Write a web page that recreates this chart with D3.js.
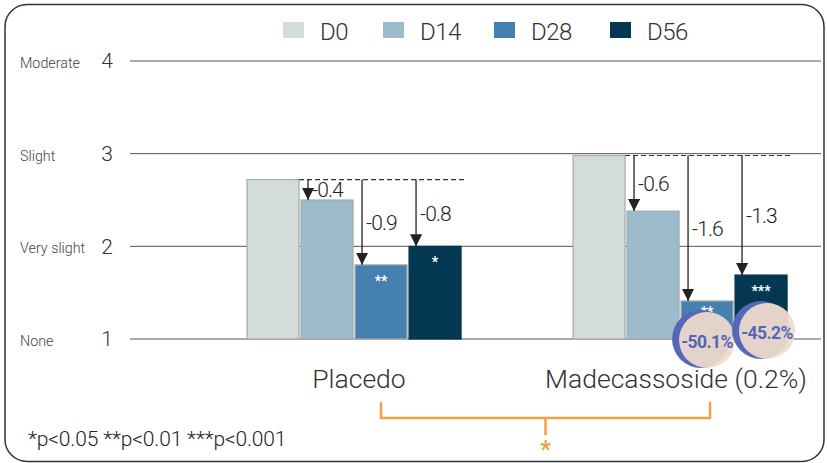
<!DOCTYPE html>
<html><head><meta charset="utf-8">
<script src="https://cdn.jsdelivr.net/npm/d3@7"></script>
<style>
html,body{margin:0;padding:0;background:#fff;}
text{font-family:Roboto,"Noto Sans",sans-serif;}
</style></head>
<body><svg id="c" width="827" height="463"></svg>
<script>
const groups = ["Placedo", "Madecassoside (0.2%)"];
const series = ["D0", "D14", "D28", "D56"];
const colors = ["#d2dcd8", "#9cbccc", "#4580b0", "#043852"];
const placeboValues = [2.72, 2.50, 1.80, 2.00];
const madeValues = [2.98, 2.38, 1.41, 1.69];
const placeboDeltas = ["-0.4", "-0.9", "-0.8"];
const madeDeltas = ["-0.6", "-1.6", "-1.3"];
const placeboStars = ["", "", "**", "*"];
const madeStars = ["", "", "**", "***"];
const madePercents = ["", "", "-50.1%", "-45.2%"];
const yTicks = [1, 2, 3, 4];
const yNames = ["None", "Very slight", "Slight", "Moderate"];
const footnote = "*p<0.05 **p<0.01 ***p<0.001";

const values = [placeboValues, madeValues];
const deltas = [placeboDeltas, madeDeltas];
const stars = [placeboStars, madeStars];

const svg = d3.select("#c");

// border
svg.append("rect").attr("x", 5).attr("y", 4.5).attr("width", 819).attr("height", 457)
  .attr("rx", 22).attr("fill", "none").attr("stroke", "#333").attr("stroke-width", 1.5);

const y = d3.scaleLinear().domain([1, 4]).range([339, 61]);
const x0 = d3.scaleBand().domain(groups).range([190, 842]).paddingInner(0.35).paddingOuter(0.175);
const x1 = d3.scaleBand().domain(series).range([0, 214]).paddingInner(0.037);
const bw = x1.bandwidth();

// grid
const grid = svg.append("g");
yTicks.forEach((t, i) => {
  grid.append("line").attr("x1", 130).attr("x2", 821).attr("y1", y(t)).attr("y2", y(t))
    .attr("stroke", t === 1 ? "#aaa" : "#555").attr("stroke-width", t === 1 ? 2 : 1);
  grid.append("text").attr("x", 113).attr("y", y(t)).attr("dy", "0.35em").attr("text-anchor", "end")
    .attr("font-size", 21).attr("font-weight", 300).attr("fill", "#333").text(t);
  grid.append("text").attr("x", 20).attr("y", y(t) + 2).attr("dy", "0.35em")
    .attr("font-size", 14.3).attr("font-weight", 300).attr("fill", "#444").text(yNames[i]);
});

// legend
const lx = [283, 383, 494, 610];
series.forEach((s, i) => {
  svg.append("rect").attr("x", lx[i]).attr("y", 22).attr("width", 21).attr("height", 16).attr("fill", colors[i]);
  svg.append("text").attr("x", lx[i] + 37).attr("y", 31).attr("dy", "0.36em")
    .attr("font-size", 24).attr("font-weight", 300).attr("fill", "#333").attr("letter-spacing", -0.5).text(s);
});

// arrow marker
const defs = svg.append("defs");
defs.append("marker").attr("id", "ah").attr("viewBox", "0 0 10 10").attr("refX", 10).attr("refY", 5)
  .attr("markerWidth", 12).attr("markerHeight", 12).attr("markerUnits", "userSpaceOnUse").attr("orient", "auto")
  .append("path").attr("d", "M0,0 L10,5 L0,10 Z").attr("fill", "#222");

const labelShift = [6, -3];

groups.forEach((g, gi) => {
  const gx = x0(g);
  const vals = values[gi];
  const G = svg.append("g").attr("transform", `translate(${gx},0)`);
  G.selectAll("rect.bar").data(vals).join("rect").attr("class", "bar")
    .attr("x", (d, i) => x1(series[i])).attr("width", bw)
    .attr("y", d => y(d)).attr("height", d => y(1) - y(d))
    .attr("fill", (d, i) => colors[i])
    .attr("stroke", (d, i) => i === 3 ? "#06324a" : "#a5aaac").attr("stroke-width", 1.2);

  // stars
  G.selectAll("text.star").data(vals).join("text").attr("class", "star")
    .attr("x", (d, i) => x1(series[i]) + bw / 2)
    .attr("y", d => y(d) + Math.min(21, (y(1) - y(d)) * 0.42))
    .attr("text-anchor", "middle").attr("font-size", 14).attr("font-weight", 700).attr("fill", "#fff")
    .text((d, i) => stars[gi][i]);

  // dashed baseline
  const base = y(vals[0]);
  G.append("line").attr("x1", x1("D0") + bw).attr("x2", x1("D56") + bw + 4).attr("y1", base).attr("y2", base)
    .attr("stroke", "#333").attr("stroke-width", 1.2).attr("stroke-dasharray", "5,3");

  // arrows
  vals.slice(1).forEach((v, k) => {
    const ax = x1(series[k + 1]) + 7;
    G.append("line").attr("x1", ax).attr("x2", ax).attr("y1", base).attr("y2", y(v))
      .attr("stroke", "#222").attr("stroke-width", 1.3).attr("marker-end", "url(#ah)");
    G.append("text").attr("x", ax + 4).attr("y", (base + y(v)) / 2).attr("dy", "0.36em")
      .attr("font-size", 21).attr("font-weight", 300).attr("fill", "#222").attr("letter-spacing", -0.9)
      .text(deltas[gi][k]);
  });

  // group label
  svg.append("text").attr("x", gx + x0.bandwidth() / 2 + labelShift[gi]).attr("y", 388)
    .attr("text-anchor", "middle").attr("font-size", 26.5).attr("font-weight", 300).attr("fill", "#333")
    .text(g);
});

// percent badges on Madecassoside
const mg = x0(groups[1]);
const offs = [[0, 0], [0, 0], [0, 1], [6, -8]];
madePercents.forEach((p, i) => {
  if (!p) return;
  const cx = mg + x1(series[i]) + bw / 2 + offs[i][0];
  const cy = y(1) + offs[i][1];
  svg.append("circle").attr("cx", cx - 6).attr("cy", cy - 1).attr("r", 29).attr("fill", "#5567b8");
  svg.append("circle").attr("cx", cx).attr("cy", cy).attr("r", 28).attr("fill", "#efdccb").attr("fill-opacity", 0.93);
  svg.append("text").attr("x", cx).attr("y", cy + 2).attr("dy", "0.36em").attr("text-anchor", "middle")
    .attr("font-size", 17.5).attr("font-weight", 700).attr("fill", "#5466b8").attr("letter-spacing", -0.6).text(p);
});

// orange bracket
const c0 = x0(groups[0]) + x0.bandwidth() / 2 + 28;
const c1 = x0(groups[1]) + x0.bandwidth() / 2 + 31;
const mid = (c0 + c1) / 2;
svg.append("path").attr("d", `M${c0},402 V418 H${c1} V402 M${mid},418 V435`)
  .attr("fill", "none").attr("stroke", "#f5a042").attr("stroke-width", 2.5);
svg.append("text").attr("x", mid).attr("y", 457).attr("text-anchor", "middle")
  .attr("font-size", 23).attr("font-weight", 900).attr("fill", "#f5a042").text("*");

svg.append("text").attr("x", 28).attr("y", 446).attr("font-size", 21).attr("font-weight", 300)
  .attr("fill", "#222").attr("letter-spacing", -0.15).text(footnote);
</script></body></html>
